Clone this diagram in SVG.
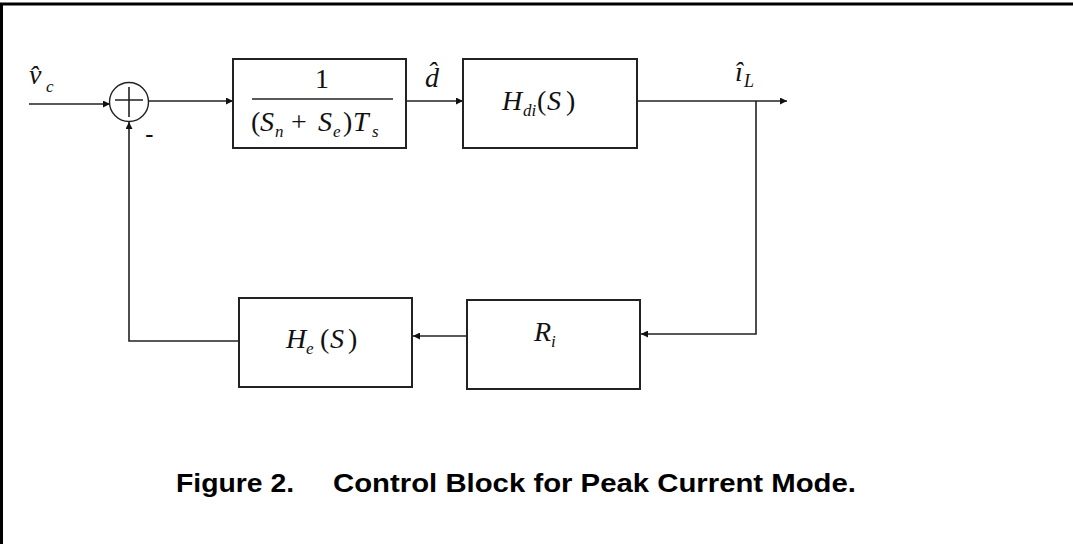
<svg xmlns="http://www.w3.org/2000/svg" width="1073" height="544" viewBox="0 0 1073 544">
<defs>
<style>
.blk{fill:#fff;stroke:#222;stroke-width:2}
.ln{fill:none;stroke:#222;stroke-width:1.6}
.m{font-family:"Liberation Serif","Times New Roman",serif;font-style:italic;fill:#111;font-size:28px}
.up{font-style:normal}
.sub{font-size:17px}
.cap{font-family:"Liberation Sans",Arial,sans-serif;font-weight:bold;font-size:26px;fill:#000}
</style>
<marker id="ah" viewBox="0 0 10 10" refX="10" refY="5" markerWidth="8" markerHeight="7" markerUnits="userSpaceOnUse" orient="auto">
<path d="M0,0 L10,5 L0,10 z" fill="#111"/>
</marker>
</defs>
<rect x="0" y="0" width="1073" height="544" fill="#fff"/>
<path d="M0,4 H1073 M1.5,3 V544" stroke="#000" stroke-width="3" fill="none"/>

<g id="connectors">
<path class="ln" d="M29,104 H110" marker-end="url(#ah)"/>
<path class="ln" d="M148,101 H233" marker-end="url(#ah)"/>
<path class="ln" d="M406,101 H463" marker-end="url(#ah)"/>
<path class="ln" d="M637,101 H787" marker-end="url(#ah)"/>
<path class="ln" d="M756,101 V334 H641" marker-end="url(#ah)"/>
<path class="ln" d="M466,336 H413" marker-end="url(#ah)"/>
<path class="ln" d="M239,341 H129 V122" marker-end="url(#ah)"/>
</g>

<g id="sum">
<circle cx="129" cy="102" r="19.5" fill="none" stroke="#222" stroke-width="1.4"/>
<path d="M115,100 H143 M129,87 V117" stroke="#222" stroke-width="1.6"/>
<text x="145" y="143" font-family="Liberation Sans,sans-serif" font-size="26" fill="#111">-</text>
</g>

<g id="label-vc">
<text class="m" x="29" y="84">v&#x302;<tspan class="sub" x="46" y="92">c</tspan></text>
</g>

<g id="block1">
<rect class="blk" x="233" y="59" width="173" height="89"/>
<text class="m up" x="315" y="88" font-size="26">1</text>
<path d="M252,99 H393" stroke="#222" stroke-width="1.6"/>
<text class="m" y="131"><tspan class="up" x="251">(</tspan><tspan x="260">S</tspan><tspan class="sub" x="275" dy="6">n</tspan><tspan class="up" x="291" dy="-6">+</tspan><tspan x="318">S</tspan><tspan class="sub" x="333" dy="6">e</tspan><tspan class="up" x="343" dy="-6">)</tspan><tspan x="353">T</tspan><tspan class="sub" x="372" dy="6">s</tspan></text>
</g>

<g id="label-d">
<text class="m" x="425" y="87">d&#x302;</text>
</g>

<g id="block2">
<rect class="blk" x="463" y="59" width="174" height="89"/>
<text class="m" y="110"><tspan x="502">H</tspan><tspan class="sub" x="523" dy="6">di</tspan><tspan class="up" x="537" dy="-6">(</tspan><tspan x="547">S</tspan><tspan class="up" x="566">)</tspan></text>
</g>

<g id="label-iL">
<text class="m" x="735" y="81" font-size="26">i&#x302;<tspan x="744" y="87" font-size="18">L</tspan></text>
</g>

<g id="block-Ri">
<rect class="blk" x="467" y="300" width="173" height="89"/>
<text class="m" x="534" y="341">R<tspan class="sub" dy="6">i</tspan></text>
</g>

<g id="block-He">
<rect class="blk" x="239" y="298" width="173" height="89"/>
<text class="m" y="348"><tspan x="286">H</tspan><tspan class="sub" x="306" dy="6">e</tspan><tspan class="up" x="320" dy="-6">(</tspan><tspan x="330">S</tspan><tspan class="up" x="348">)</tspan></text>
</g>

<g id="caption">
<text class="cap" x="176" y="492" textLength="118" lengthAdjust="spacingAndGlyphs">Figure 2.</text>
<text class="cap" x="333" y="492" textLength="523" lengthAdjust="spacingAndGlyphs">Control Block for Peak Current Mode.</text>
</g>
</svg>
